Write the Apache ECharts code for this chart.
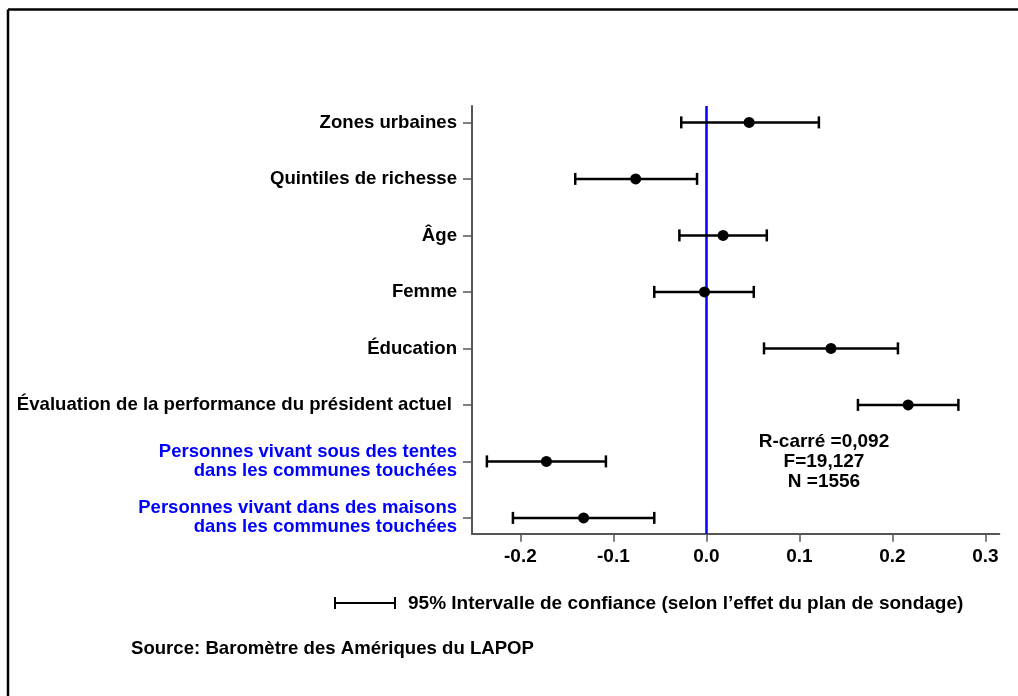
<!DOCTYPE html>
<html>
<head>
<meta charset="utf-8">
<script src="https://cdn.jsdelivr.net/npm/echarts@6/dist/echarts.min.js"></script>
<style>
html,body{margin:0;padding:0;background:#fff;}
#chart{width:1018px;height:696px;}
</style>
</head>
<body>
<div id="chart"></div>
<script>
const categories = [
  "Zones urbaines",
  "Quintiles de richesse",
  "Âge",
  "Femme",
  "Éducation",
  "Évaluation de la performance du président actuel ",
  "Personnes vivant sous des tentes\ndans les communes touchées",
  "Personnes vivant dans des maisons\ndans les communes touchées"
];
const highlighted = [false, false, false, false, false, false, true, true];
const coef  = [0.046, -0.076, 0.018, -0.002, 0.134, 0.217, -0.172, -0.132];
const lower = [-0.027, -0.141, -0.029, -0.056, 0.062, 0.163, -0.236, -0.208];
const upper = [0.121, -0.010, 0.065, 0.051, 0.206, 0.271, -0.108, -0.056];
const xTicks = [-0.2, -0.1, 0.0, 0.1, 0.2, 0.3];
const statsText = ["R-carré =0,092", "F=19,127", "N =1556"];
const legendText = "95% Intervalle de confiance (selon l’effet du plan de sondage)";
const sourceText = "Source: Baromètre des Amériques du LAPOP";

const FONT = '"Liberation Sans", Arial, Helvetica, sans-serif';
const chart = echarts.init(document.getElementById('chart'), null, {renderer: 'canvas'});

const idx = categories.map((_, i) => i);
const ciData = idx.map(i => [lower[i], upper[i], i]);
const ptData = idx.map(i => [coef[i], i]);

const option = {
  backgroundColor: '#ffffff',
  animation: false,
  grid: {left: 472, right: 18.7, top: 106, bottom: 162.3},
  xAxis: {
    type: 'value',
    min: -0.252, max: 0.315,
    axisLine: {show: true, onZero: false, lineStyle: {color: '#555', width: 2}},
    axisTick: {show: true, customValues: xTicks, length: 8, lineStyle: {color: '#555', width: 1.5}},
    axisLabel: {
      customValues: xTicks, margin: 14,
      formatter: v => v.toFixed(1),
      color: '#000', fontFamily: FONT, fontWeight: 'bold', fontSize: 19
    },
    splitLine: {show: false}
  },
  yAxis: {
    type: 'value',
    inverse: true,
    min: -0.29, max: 7.28,
    axisLine: {show: true, onZero: false, lineStyle: {color: '#555', width: 2}},
    axisTick: {show: true, customValues: idx, length: 9, lineStyle: {color: '#555', width: 1.5}},
    axisLabel: {
      customValues: idx, margin: 15, align: 'right',
      formatter: v => {
        const i = Math.round(v);
        const tag = highlighted[i] ? 'blue' : 'blk';
        return categories[i].split('\n').map(s => '{' + tag + '|' + s + '}').join('\n');
      },
      rich: {
        blk: {color: '#000', fontFamily: FONT, fontWeight: 'bold', fontSize: 18.6, lineHeight: 19},
        blue: {color: '#0000ff', fontFamily: FONT, fontWeight: 'bold', fontSize: 18.5, lineHeight: 19}
      }
    },
    splitLine: {show: false}
  },
  series: [
    {
      type: 'custom',
      data: ciData,
      encode: {x: [0, 1], y: 2},
      renderItem: (params, api) => {
        const a = api.coord([api.value(0), api.value(2)]);
        const b = api.coord([api.value(1), api.value(2)]);
        const h = 6;
        const st = {stroke: '#000', lineWidth: 2.5};
        return {
          type: 'group',
          children: [
            {type: 'line', shape: {x1: a[0], y1: a[1], x2: b[0], y2: b[1]}, style: st},
            {type: 'line', shape: {x1: a[0], y1: a[1] - h, x2: a[0], y2: a[1] + h}, style: st},
            {type: 'line', shape: {x1: b[0], y1: b[1] - h, x2: b[0], y2: b[1] + h}, style: st}
          ]
        };
      },
      z: 3
    },
    {
      type: 'scatter',
      data: ptData,
      symbol: 'circle',
      symbolSize: 11,
      itemStyle: {color: '#000', opacity: 1},
      z: 4,
      markLine: {
        silent: true,
        symbol: 'none',
        label: {show: false},
        lineStyle: {color: '#0000ff', width: 2.5, type: 'solid', opacity: 1},
        data: [{xAxis: 0}],
        z: 2
      }
    }
  ],
  graphic: [
    {type: 'line', shape: {x1: 8, y1: 9.5, x2: 1018, y2: 9.5}, style: {stroke: '#000', lineWidth: 2.5}},
    {type: 'line', shape: {x1: 8, y1: 9.5, x2: 8, y2: 696}, style: {stroke: '#000', lineWidth: 2.5}},
    {
      type: 'text', x: 824, y: 462,
      style: {text: statsText.join('\n'), align: 'center', verticalAlign: 'middle', fill: '#000', font: 'bold 19px ' + FONT, lineHeight: 20}
    },
    {type: 'line', shape: {x1: 335, y1: 603, x2: 395, y2: 603}, style: {stroke: '#000', lineWidth: 2}},
    {type: 'line', shape: {x1: 335, y1: 597, x2: 335, y2: 609}, style: {stroke: '#000', lineWidth: 2}},
    {type: 'line', shape: {x1: 395, y1: 597, x2: 395, y2: 609}, style: {stroke: '#000', lineWidth: 2}},
    {
      type: 'text', x: 408, y: 604,
      style: {text: legendText, verticalAlign: 'middle', fill: '#000', font: 'bold 19px ' + FONT}
    },
    {
      type: 'text', x: 131, y: 649,
      style: {text: sourceText, verticalAlign: 'middle', fill: '#000', font: 'bold 18.6px ' + FONT}
    }
  ]
};
chart.setOption(option);
</script>
</body>
</html>
